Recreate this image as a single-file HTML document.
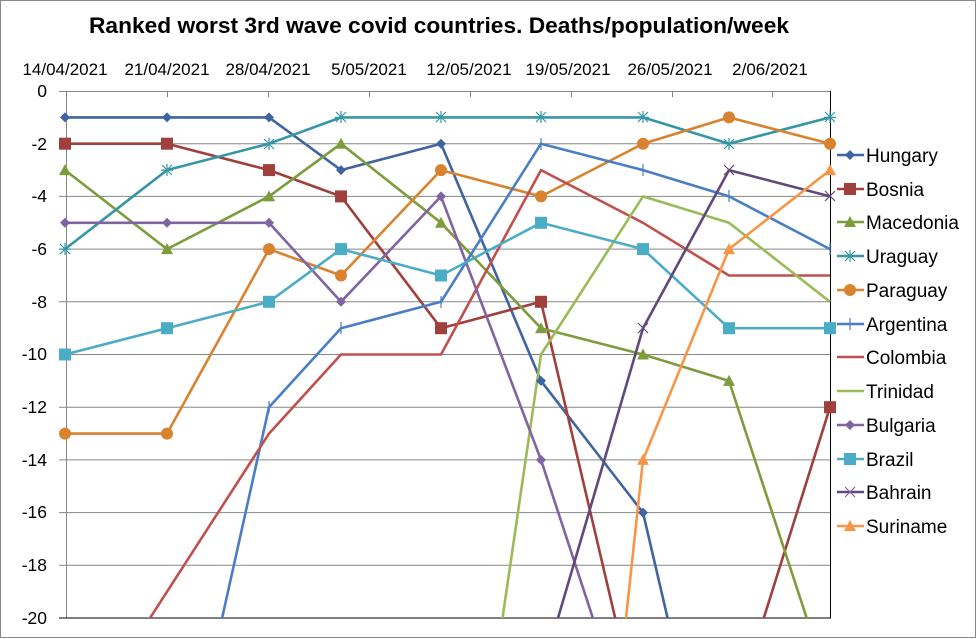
<!DOCTYPE html>
<html><head><meta charset="utf-8"><style>
html,body{margin:0;padding:0;background:#fff;width:977px;height:639px;overflow:hidden}
svg{display:block;font-family:"Liberation Sans",sans-serif}
</style></head><body>
<svg width="977" height="639" viewBox="0 0 977 639" xmlns="http://www.w3.org/2000/svg">
<defs>
<clipPath id="c"><rect x="60" y="85" width="776" height="533"/></clipPath>
<g id="dia"><path d="M-5,0 L0,-5 L5,0 L0,5Z"/></g>
<g id="sq"><rect x="-6" y="-6" width="12" height="12"/></g>
<g id="tri"><path d="M-6,5 L0,-6 L6,5Z"/></g>
<g id="cir"><circle r="6"/></g>
</defs>
<rect x="0.5" y="0.5" width="975" height="637" fill="#fff" stroke="#888"/>
<text x="439" y="33" text-anchor="middle" font-size="22.5" font-weight="bold" fill="#000" textLength="700" lengthAdjust="spacingAndGlyphs">Ranked worst 3rd wave covid countries. Deaths/population/week</text>
<g font-size="17" fill="#000" text-anchor="middle">
<text x="65" y="75">14/04/2021</text><text x="167" y="75">21/04/2021</text><text x="268" y="75">28/04/2021</text><text x="369" y="75">5/05/2021</text><text x="469" y="75">12/05/2021</text><text x="568" y="75">19/05/2021</text><text x="670" y="75">26/05/2021</text><text x="770" y="75">2/06/2021</text>
</g>
<g font-size="17.5" fill="#000" text-anchor="end">
<text x="47" y="97">0</text><text x="47" y="150">-2</text><text x="47" y="202">-4</text><text x="47" y="255">-6</text><text x="47" y="308">-8</text><text x="47" y="360">-10</text><text x="47" y="413">-12</text><text x="47" y="466">-14</text><text x="47" y="518">-16</text><text x="47" y="571">-18</text><text x="47" y="624">-20</text>
</g>
<g stroke="#868686" stroke-width="1">
<line x1="59" y1="91.5" x2="830" y2="91.5"/><line x1="59" y1="143.7" x2="830" y2="143.7"/><line x1="59" y1="196.4" x2="830" y2="196.4"/><line x1="59" y1="249.1" x2="830" y2="249.1"/><line x1="59" y1="301.8" x2="830" y2="301.8"/><line x1="59" y1="354.5" x2="830" y2="354.5"/><line x1="59" y1="407.2" x2="830" y2="407.2"/><line x1="59" y1="459.9" x2="830" y2="459.9"/><line x1="59" y1="512.6" x2="830" y2="512.6"/><line x1="59" y1="565.3" x2="830" y2="565.3"/>
<line x1="66.5" y1="91" x2="66.5" y2="618"/>
<line x1="167.5" y1="91" x2="167.5" y2="97"/><line x1="268.5" y1="91" x2="268.5" y2="97"/><line x1="369.5" y1="91" x2="369.5" y2="97"/><line x1="470.5" y1="91" x2="470.5" y2="97"/><line x1="571.5" y1="91" x2="571.5" y2="97"/><line x1="672.5" y1="91" x2="672.5" y2="97"/><line x1="772.5" y1="91" x2="772.5" y2="97"/>
</g>
<g stroke="#000" stroke-width="1"><line x1="830.5" y1="91" x2="830.5" y2="618"/><line x1="59" y1="618" x2="831" y2="618"/></g>
<g clip-path="url(#c)" fill="none" stroke-width="2.6" stroke-linejoin="round">
<polyline stroke="#3F64A0" points="65,117.4 167,117.4 269,117.4 341,170.1 441,143.7 541,380.9 643,512.6 729,881.5"/>
<polyline stroke="#A0403D" points="65,143.7 167,143.7 269,170.1 341,196.4 441,328.2 541,301.8 643,736.6 729,728.7 830,407.2"/>
<polyline stroke="#7D9C3C" points="65,170.1 167,249.1 269,196.4 341,143.7 441,222.8 541,328.2 643,354.5 729,380.9 830,689.1"/>
<polyline stroke="#3596A5" points="65,249.1 167,170.1 269,143.7 341,117.4 441,117.4 541,117.4 643,117.4 729,143.7 830,117.4"/>
<polyline stroke="#D9822F" points="65,433.6 167,433.6 269,249.1 341,275.5 441,170.1 541,196.4 643,143.7 729,117.4 830,143.7"/>
<polyline stroke="#4A7EC4" points="167,865.7 269,407.2 341,328.2 441,301.8 541,143.7 643,170.1 729,196.4 830,249.1"/>
<polyline stroke="#C0504D" points="65,749.8 167,591.7 269,433.6 341,354.5 441,354.5 541,170.1 643,222.8 729,275.5 830,275.5"/>
<polyline stroke="#9BBB59" points="441,1039.6 541,354.5 643,196.4 729,222.8 830,301.8"/>
<polyline stroke="#8064A2" points="65,222.8 167,222.8 269,222.8 341,301.8 441,196.4 541,459.9 643,770.8"/>
<polyline stroke="#4BACC6" points="65,354.5 167,328.2 269,301.8 341,249.1 441,275.5 541,222.8 643,249.1 729,328.2 830,328.2"/>
<polyline stroke="#604A7B" points="541,676 643,328.2 729,170.1 830,196.4"/>
<polyline stroke="#F79646" points="541,1408.5 643,459.9 729,249.1 830,170.1"/>
</g>
<g>
<g fill="#3F64A0"><use href="#dia" x="65" y="117.4"/><use href="#dia" x="167" y="117.4"/><use href="#dia" x="269" y="117.4"/><use href="#dia" x="341" y="170.1"/><use href="#dia" x="441" y="143.7"/><use href="#dia" x="541" y="380.9"/><use href="#dia" x="643" y="512.6"/></g>
<g fill="#A0403D"><use href="#sq" x="65" y="143.7"/><use href="#sq" x="167" y="143.7"/><use href="#sq" x="269" y="170.1"/><use href="#sq" x="341" y="196.4"/><use href="#sq" x="441" y="328.2"/><use href="#sq" x="541" y="301.8"/><use href="#sq" x="830" y="407.2"/></g>
<g fill="#7D9C3C"><use href="#tri" x="65" y="170.1"/><use href="#tri" x="167" y="249.1"/><use href="#tri" x="269" y="196.4"/><use href="#tri" x="341" y="143.7"/><use href="#tri" x="441" y="222.8"/><use href="#tri" x="541" y="328.2"/><use href="#tri" x="643" y="354.5"/><use href="#tri" x="729" y="380.9"/></g>
<g fill="#D9822F"><use href="#cir" x="65" y="433.6"/><use href="#cir" x="167" y="433.6"/><use href="#cir" x="269" y="249.1"/><use href="#cir" x="341" y="275.5"/><use href="#cir" x="441" y="170.1"/><use href="#cir" x="541" y="196.4"/><use href="#cir" x="643" y="143.7"/><use href="#cir" x="729" y="117.4"/><use href="#cir" x="830" y="143.7"/></g>
<g fill="#8064A2"><use href="#dia" x="65" y="222.8"/><use href="#dia" x="167" y="222.8"/><use href="#dia" x="269" y="222.8"/><use href="#dia" x="341" y="301.8"/><use href="#dia" x="441" y="196.4"/><use href="#dia" x="541" y="459.9"/></g>
<g fill="#4BACC6"><use href="#sq" x="65" y="354.5"/><use href="#sq" x="167" y="328.2"/><use href="#sq" x="269" y="301.8"/><use href="#sq" x="341" y="249.1"/><use href="#sq" x="441" y="275.5"/><use href="#sq" x="541" y="222.8"/><use href="#sq" x="643" y="249.1"/><use href="#sq" x="729" y="328.2"/><use href="#sq" x="830" y="328.2"/></g>
<g fill="#F79646"><use href="#tri" x="643" y="459.9"/><use href="#tri" x="729" y="249.1"/><use href="#tri" x="830" y="170.1"/></g>
<g stroke="#3596A5" stroke-width="1.2">
<path d="M59,249.1h12M65,243v12M60,244l10,10M70,244l-10,10 M161,170.1h12M167,164v12M162,165l10,10M172,165l-10,10 M263,143.7h12M269,138v12M264,139l10,10M274,139l-10,10 M335,117.4h12M341,111v12M336,112l10,10M346,112l-10,10 M435,117.4h12M441,111v12M436,112l10,10M446,112l-10,10 M535,117.4h12M541,111v12M536,112l10,10M546,112l-10,10 M637,117.4h12M643,111v12M638,112l10,10M648,112l-10,10 M723,143.7h12M729,138v12M724,139l10,10M734,139l-10,10 M824,117.4h12M830,111v12M825,112l10,10M835,112l-10,10"/>
</g>
<g stroke="#4A7EC4" stroke-width="1.2"><path d="M269,401v12M341,322v12M441,296v12M541,138v12M643,164v12M729,190v12M830,243v12"/></g>
<g stroke="#604A7B" stroke-width="1.2"><path d="M638,323l10,10M648,323l-10,10M724,165l10,10M734,165l-10,10M825,191l10,10M835,191l-10,10"/></g>
</g>
<g font-size="19" fill="#000">
<line x1="837" y1="155" x2="864" y2="155" stroke="#3F64A0" stroke-width="2.6"/><use href="#dia" x="850" y="155" fill="#3F64A0"/><text x="866" y="162">Hungary</text>
<line x1="837" y1="189" x2="864" y2="189" stroke="#A0403D" stroke-width="2.6"/><use href="#sq" x="850" y="189" fill="#A0403D"/><text x="866" y="196">Bosnia</text>
<line x1="837" y1="222" x2="864" y2="222" stroke="#7D9C3C" stroke-width="2.6"/><use href="#tri" x="850" y="222" fill="#7D9C3C"/><text x="866" y="229">Macedonia</text>
<line x1="837" y1="256" x2="864" y2="256" stroke="#3596A5" stroke-width="2.6"/><path d="M845,251l10,10M855,251l-10,10M850,250v12" stroke="#3596A5" stroke-width="1.2"/><text x="866" y="263">Uraguay</text>
<line x1="837" y1="290" x2="864" y2="290" stroke="#D9822F" stroke-width="2.6"/><use href="#cir" x="850" y="290" fill="#D9822F"/><text x="866" y="297">Paraguay</text>
<line x1="837" y1="324" x2="864" y2="324" stroke="#4A7EC4" stroke-width="2.6"/><path d="M850,318v12" stroke="#4A7EC4" stroke-width="1.2"/><text x="866" y="331">Argentina</text>
<line x1="837" y1="357" x2="864" y2="357" stroke="#C0504D" stroke-width="2.6"/><text x="866" y="364">Colombia</text>
<line x1="837" y1="391" x2="864" y2="391" stroke="#9BBB59" stroke-width="2.6"/><text x="866" y="398">Trinidad</text>
<line x1="837" y1="425" x2="864" y2="425" stroke="#8064A2" stroke-width="2.6"/><use href="#dia" x="850" y="425" fill="#8064A2"/><text x="866" y="432">Bulgaria</text>
<line x1="837" y1="459" x2="864" y2="459" stroke="#4BACC6" stroke-width="2.6"/><use href="#sq" x="850" y="459" fill="#4BACC6"/><text x="866" y="466">Brazil</text>
<line x1="837" y1="492" x2="864" y2="492" stroke="#604A7B" stroke-width="2.6"/><path d="M845,487l10,10M855,487l-10,10" stroke="#8064A2" stroke-width="1.2"/><text x="866" y="499">Bahrain</text>
<line x1="837" y1="526" x2="864" y2="526" stroke="#F79646" stroke-width="2.6"/><use href="#tri" x="850" y="526" fill="#F79646"/><text x="866" y="533">Suriname</text>
</g>
</svg>
</body></html>
